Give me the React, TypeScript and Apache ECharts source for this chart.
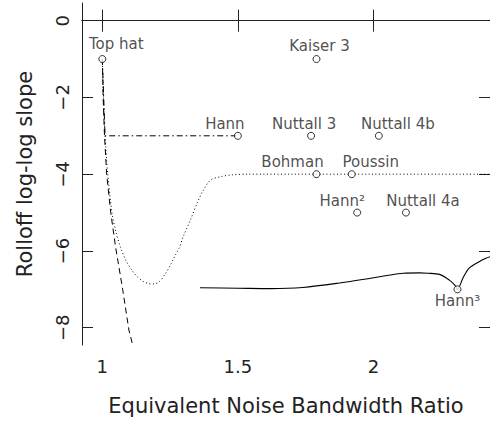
import React, { useEffect, useRef } from "react";
import * as echarts from "echarts";

// ---- data ----
const windowNames = ["Top hat", "Kaiser 3", "Hann", "Nuttall 3", "Nuttall 4b", "Bohman", "Poussin", "Hann²", "Nuttall 4a", "Hann³"];
const windowEnbw = [1.0, 1.79, 1.5, 1.77, 2.02, 1.79, 1.92, 1.94, 2.12, 2.31];
const windowSlope = [-1, -1, -3, -3, -3, -4, -4, -5, -5, -7];
// label offsets [dx, dy] relative to the marker (pixels)
const labelOffsets: [number, number][] = [
  [14, -15], [3, -13], [-13, -12], [-7, -12], [19, -12],
  [-24, -12], [19, -12], [-15, -12], [17, -12], [0, 12],
];

const dashedX = [1.0, 1.003, 1.008, 1.016, 1.031, 1.049, 1.075, 1.098, 1.112];
const dashedY = [-1, -2, -3, -4, -5, -5.9, -7, -8.06, -8.45];

const dashDotX = [1.0, 1.01, 1.5];
const dashDotY = [-1, -3, -3];

const dottedX = [1.0, 1.004, 1.01, 1.02, 1.036, 1.05, 1.067, 1.087, 1.109, 1.13, 1.15, 1.17, 1.19, 1.21, 1.23, 1.25, 1.27, 1.283, 1.3, 1.325, 1.35, 1.37, 1.4, 1.44, 1.475, 1.537, 1.7, 2.0, 2.43];
const dottedY = [-1, -2, -3, -4, -5.02, -5.5, -5.9, -6.25, -6.5, -6.68, -6.79, -6.85, -6.86, -6.8, -6.62, -6.38, -6.1, -5.93, -5.6, -5.19, -4.75, -4.45, -4.15, -4.06, -4.02, -4.0, -4.0, -4.0, -4.0];

const solidX = [1.36, 1.5, 1.62, 1.74, 1.87, 1.99, 2.05, 2.11, 2.17, 2.2, 2.244, 2.28, 2.3, 2.31, 2.33, 2.353, 2.39, 2.415, 2.43];
const solidY = [-6.96, -6.97, -6.98, -6.95, -6.84, -6.71, -6.64, -6.58, -6.57, -6.58, -6.61, -6.76, -6.89, -7.0, -6.71, -6.45, -6.28, -6.19, -6.15];

const xTicks = [1, 1.5, 2];
const yTicks = [-8, -6, -4, -2, 0];

const FONT = "DejaVu Sans";
const INK = "#222";

function pairs(xs: number[], ys: number[]) {
  return xs.map((x, i) => [x, ys[i]]);
}

export default function App() {
  const ref = useRef<HTMLDivElement>(null);
  useEffect(() => {
    document.body.style.margin = "0";
    const chart = echarts.init(ref.current!, null, { renderer: "svg" });
    const xr = { min: 0.925, max: 2.43 };
    const yr = { min: -8.45, max: 0.46 };
    const lineAxis = { show: true, lineStyle: { color: INK, width: 1 } };
    const tick = { show: true, inside: true, length: 11, lineStyle: { color: INK, width: 1 } };
    const lineBase = {
      type: "line" as const,
      showSymbol: false,
      symbol: "none",
      clip: true,
      silent: true,
      z: 2,
    };
    chart.setOption({
      animation: false,
      backgroundColor: "#fff",
      grid: { left: 82, top: 3, width: 412, height: 342 },
      xAxis: [
        {
          type: "value", ...xr, position: "bottom",
          axisLine: lineAxis,
          axisTick: { ...tick, customValues: xTicks },
          axisLabel: { customValues: xTicks, fontSize: 18, fontFamily: FONT, color: INK, margin: 12 },
          splitLine: { show: false },
          name: "Equivalent Noise Bandwidth Ratio",
          nameLocation: "middle",
          nameGap: 50,
          nameTextStyle: { fontSize: 21, fontFamily: FONT, color: INK },
        },
        {
          type: "value", ...xr, position: "top",
          axisLine: lineAxis,
          axisTick: { ...tick, customValues: xTicks },
          axisLabel: { show: false },
          splitLine: { show: false },
        },
      ],
      yAxis: [
        {
          type: "value", ...yr, position: "left",
          axisLine: lineAxis,
          axisTick: { ...tick, customValues: yTicks },
          axisLabel: {
            customValues: yTicks, rotate: 90, fontSize: 18, fontFamily: FONT, color: INK, margin: 11,
            formatter: (v: number) => String(v).replace("-", "\u2212"),
          },
          splitLine: { show: false },
          name: "Rolloff log-log slope",
          nameLocation: "middle",
          nameGap: 47,
          nameTextStyle: { fontSize: 21, fontFamily: FONT, color: INK },
        },
        {
          type: "value", ...yr, position: "right",
          axisLine: lineAxis,
          axisTick: { ...tick, customValues: yTicks },
          axisLabel: { show: false },
          splitLine: { show: false },
        },
      ],
      series: [
        { ...lineBase, data: pairs(dashedX, dashedY), lineStyle: { color: "#000", width: 1, type: [6, 4] } },
        { ...lineBase, data: pairs(dashDotX, dashDotY), lineStyle: { color: "#000", width: 1, type: [6, 3, 1.5, 3] } },
        { ...lineBase, data: pairs(dottedX, dottedY), smooth: 0.3, lineStyle: { color: "#000", width: 1, type: [1, 2.5] } },
        { ...lineBase, data: pairs(solidX, solidY), smooth: 0.3, lineStyle: { color: "#000", width: 1.1, type: "solid" } },
        {
          type: "scatter",
          z: 5,
          symbol: "circle",
          symbolSize: 7,
          itemStyle: { color: "#fff", borderColor: "#000", borderWidth: 1 },
          data: windowNames.map((n, i) => ({
            name: n,
            value: [windowEnbw[i], windowSlope[i]],
            label: {
              show: true,
              position: "inside",
              offset: labelOffsets[i],
              formatter: n,
              fontSize: 15,
              fontFamily: FONT,
              color: INK,
            },
          })),
        },
      ],
    });
    return () => chart.dispose();
  }, []);
  return <div ref={ref} style={{ width: 490, height: 429 }} />;
}
